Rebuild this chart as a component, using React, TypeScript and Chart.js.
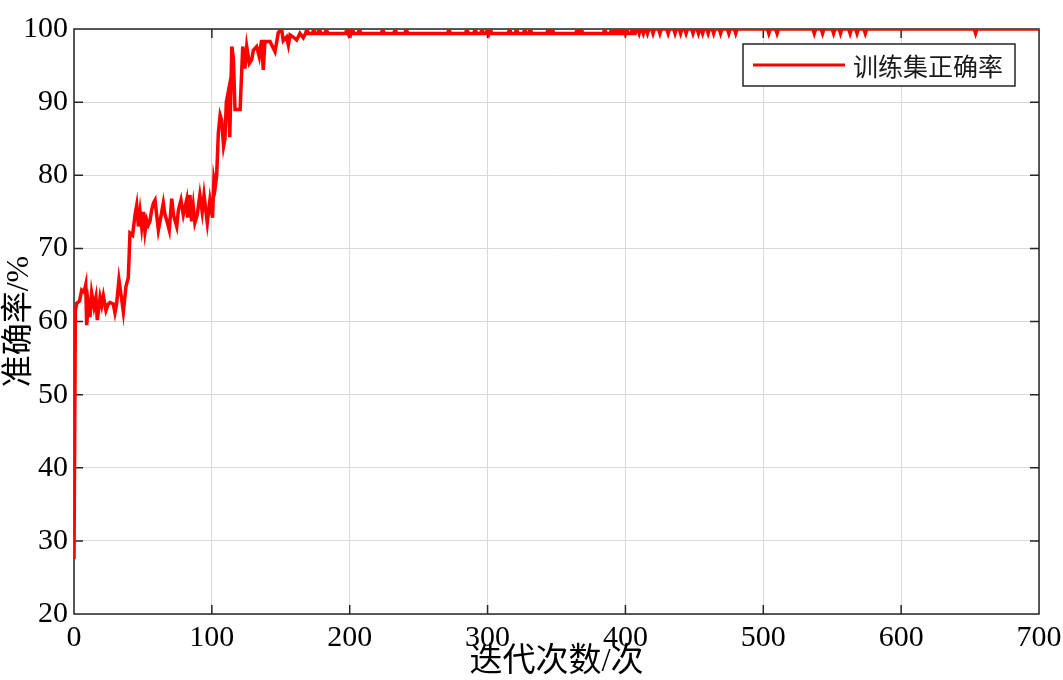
import React, { useEffect, useRef } from 'react';
import { Chart, registerables } from 'chart.js';

Chart.register(...registerables);

const seriesLabel = '训练集正确率';
const xAxisTitle = '迭代次数/次';
const yAxisTitle = '准确率/%';

const xMin = 0;
const xMax = 700;
const xStep = 100;
const yMin = 20;
const yMax = 100;
const yStep = 10;

// Early training phase (iteration, accuracy %)
const earlyIterations = [
  0, 1, 2, 4, 5.6, 7.3, 8.5, 9.2, 10.4, 11.6, 12.8, 14.5, 15.9, 16.9, 18.9, 20.1, 21.3, 23.2, 24.9, 26.1,
  28.5, 29.7, 30.9, 32.6, 34.6, 35.8, 37.7, 39.4, 40.6, 42.5, 44.3, 45.5, 46.7, 47.9, 49.1, 50.3, 51.5, 52.7,
  53.9, 55.1, 56.3, 57.6, 58.8, 60, 61.2, 62.9, 64.8, 66, 67.2, 69.1, 70.9, 72.1, 74.5, 75.7, 77.6, 79.3,
  81.7, 82.4, 84.1, 85.3, 86.5, 87.7, 89.4, 91.3, 93, 94.3, 96.7, 98.6, 100.5, 101.5, 102.5, 103.5, 104.7,
  106, 107.1, 108.5, 109.5, 110.5, 111.9, 113, 114.5, 115.6, 116.8, 120.5, 122.4, 124, 125.3, 127.2, 128.9,
  130.1, 132.5, 134.4, 136.1, 137.3, 138.5, 142.2, 145.8, 148.2, 150.6, 151.8, 154.2, 155.5, 156.7, 159.1,
  161.5, 163.9, 166.3, 168,
];
const earlyAccuracy = [
  27.5, 61.5, 62.5, 62.8, 64.3, 64, 65, 59.5, 62.4, 60.6, 63.9, 62, 63.3, 60.2, 63.3, 62.2, 63.5, 61.5, 62.4, 62.6,
  62.4, 61.2, 62.4, 65.7, 63, 61.3, 64.8, 66, 72.1, 71.8, 74.6, 75.9, 73, 75, 72.9, 75, 72.3, 73.9,
  73.2, 73.7, 75.2, 76.2, 76.6, 74.5, 72.5, 74.2, 76.2, 74.6, 73.9, 72.5, 76.8, 74.6, 73, 75.2, 76.6, 74.6,
  76.6, 74.2, 77.3, 73.7, 75.8, 73.5, 74.6, 77.3, 75, 77.3, 73.5, 76.6, 74.2, 79.5, 78.5, 80, 85.8,
  88.2, 87.5, 84, 85, 90, 91.4, 85.2, 97.6, 96, 89, 89, 97.6, 94.6, 97.6, 95.3, 95.8,
  97.1, 97.6, 96.2, 98.5, 94.4, 98.3, 98.3, 96.9, 99.5, 100, 98.4, 98.9, 97.8, 99.2, 98.9,
  98.5, 99.4, 98.8, 99.4,
];

// Later phase: plateau levels and the iterations where the curve leaves its plateau
const lowPlateau = 99.4;
const highPlateau = 100;
const plateauStart = 169;
const plateauSwitch = 408;
// iterations reaching 100% while on the 99.4% plateau
const spikeIterations = [
  169, 174, 178, 183, 198, 200, 202, 207, 224, 233, 241, 272, 285, 291, 296, 300, 302, 316, 321, 327, 331,
  344, 347, 365, 368, 385, 390, 393, 396, 399, 401, 405,
];
// iterations dropping to 99.4% while on the 100% plateau
const dipIterations = [
  410, 413, 416, 420, 425, 431, 436, 440, 444, 449, 453, 456, 460, 464, 469, 475, 480, 504, 510, 537, 543,
  551, 556, 563, 568, 574, 654,
];

const numberFont = '"Liberation Serif", "Times New Roman", serif';
const mixedFont = '"Liberation Serif", "Noto Sans CJK SC", serif';

function buildPoints() {
  const pts: { x: number; y: number }[] = [];
  earlyIterations.forEach((x, i) => pts.push({ x, y: earlyAccuracy[i] }));
  for (let it = plateauStart; it <= xMax; it++) {
    let y: number;
    if (it < plateauSwitch) y = spikeIterations.includes(it) ? highPlateau : lowPlateau;
    else y = dipIterations.includes(it) ? lowPlateau : highPlateau;
    pts.push({ x: it, y });
  }
  return pts;
}

const framePlugin = {
  id: 'frame',
  beforeDatasetsDraw(chart: any) {
    const { ctx, chartArea: a, scales } = chart;
    ctx.save();
    ctx.strokeStyle = '#262626';
    ctx.lineWidth = 1.5;
    const tl = 9;
    ctx.beginPath();
    scales.x.ticks.forEach((t: any) => {
      const px = scales.x.getPixelForValue(t.value);
      if (px <= a.left + 1 || px >= a.right - 1) return;
      ctx.moveTo(px, a.bottom);
      ctx.lineTo(px, a.bottom - tl);
      ctx.moveTo(px, a.top);
      ctx.lineTo(px, a.top + tl);
    });
    scales.y.ticks.forEach((t: any) => {
      const py = scales.y.getPixelForValue(t.value);
      if (py <= a.top + 1 || py >= a.bottom - 1) return;
      ctx.moveTo(a.left, py);
      ctx.lineTo(a.left + tl, py);
      ctx.moveTo(a.right, py);
      ctx.lineTo(a.right - tl, py);
    });
    ctx.stroke();
    ctx.strokeRect(a.left, a.top, a.right - a.left, a.bottom - a.top);
    ctx.restore();
  },
};

const legendPlugin = {
  id: 'boxLegend',
  afterDraw(chart: any) {
    const { ctx, chartArea: a } = chart;
    const ds = chart.data.datasets[0];
    const w = 272;
    const h = 42;
    const x = a.right - 24 - w;
    const y = a.top + 15;
    ctx.save();
    ctx.fillStyle = '#ffffff';
    ctx.fillRect(x, y, w, h);
    ctx.strokeStyle = '#262626';
    ctx.lineWidth = 1.5;
    ctx.strokeRect(x, y, w, h);
    ctx.strokeStyle = ds.borderColor;
    ctx.lineWidth = 3;
    ctx.beginPath();
    ctx.moveTo(x + 10, y + h / 2);
    ctx.lineTo(x + 102, y + h / 2);
    ctx.stroke();
    ctx.fillStyle = '#1a1a1a';
    ctx.font = '25px "Noto Sans CJK SC"';
    ctx.textBaseline = 'middle';
    ctx.textAlign = 'left';
    ctx.fillText(ds.label, x + 110, y + h / 2 + 1);
    ctx.restore();
  },
};

export default function App() {
  const ref = useRef<HTMLCanvasElement>(null);
  useEffect(() => {
    document.body.style.margin = '0';
    const chart = new Chart(ref.current as HTMLCanvasElement, {
      type: 'line',
      data: {
        datasets: [
          {
            label: seriesLabel,
            data: buildPoints(),
            borderColor: '#ff0000',
            borderWidth: 3.5,
            pointRadius: 0,
            tension: 0,
            fill: false,
          },
        ],
      },
      options: {
        responsive: false,
        animation: false,
        layout: { padding: { top: 29, right: 24, left: 0, bottom: 0 } },
        plugins: { legend: { display: false }, tooltip: { enabled: false } },
        scales: {
          x: {
            type: 'linear',
            min: xMin,
            max: xMax,
            ticks: { stepSize: xStep, color: '#000', padding: 6, maxRotation: 0, font: { family: numberFont, size: 30 } },
            grid: { color: '#d9d9d9', drawTicks: false, lineWidth: 1 },
            border: { display: false },
            title: {
              display: true,
              text: xAxisTitle,
              color: '#000',
              padding: 0,
              font: { family: mixedFont, size: 33, lineHeight: 1.1 },
            },
            afterFit: (s: any) => {
              s.height = 66;
              s.paddingLeft = 0;
              s.paddingRight = 0;
            },
          },
          y: {
            min: yMin,
            max: yMax,
            ticks: { stepSize: yStep, color: '#000', padding: 6, font: { family: numberFont, size: 30 } },
            grid: { color: '#d9d9d9', drawTicks: false, lineWidth: 1 },
            border: { display: false },
            title: { display: true, text: yAxisTitle, color: '#000', padding: 0, font: { family: mixedFont, size: 32 } },
            afterFit: (s: any) => {
              s.width = 74;
              s.paddingTop = 0;
              s.paddingBottom = 0;
            },
          },
        },
      },
      plugins: [framePlugin, legendPlugin],
    } as any);
    return () => chart.destroy();
  }, []);
  return <canvas ref={ref} width={1063} height={680} style={{ display: 'block' }} />;
}
